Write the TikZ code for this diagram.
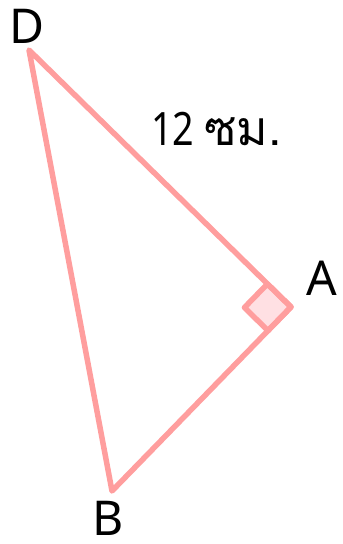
\documentclass[tikz,border=0pt]{standalone}
\usepackage{fontspec}
\usepackage{graphicx}
\setmainfont{Noto Sans}
\newfontfamily\thaifont[Script=Thai]{Loma}
\usetikzlibrary{calc}
\definecolor{edgec}{HTML}{FF9E9E}
\definecolor{markc}{HTML}{FFE0E3}
\begin{document}
\begin{tikzpicture}[x=1pt,y=-1pt,
  lbl/.style={font=\fontsize{48}{52}\selectfont, inner sep=0pt},
  edge/.style={draw=edgec, line width=5.5pt, line join=round}]
\useasboundingbox (0,0) rectangle (343,544);
\coordinate (D) at (29,50);
\coordinate (A) at (291,307);
\coordinate (B) at (112,491);
\coordinate (m1) at ($(A)!33pt!(D)$);
\coordinate (m2) at ($(A)!33pt!(B)$);
\coordinate (m3) at ($(m1)+(m2)-(A)$);
\filldraw[fill=markc, edge] (A) -- (m1) -- (m3) -- (m2) -- cycle;
\draw[edge] (D) -- (A) -- (B) -- cycle;
\node[lbl] (lD) at (27,26) {D};
\node[lbl] (lA) at (322,278) {A};
\node[lbl] (lB) at (108,518) {B};
\node[lbl, anchor=base west, font=\fontsize{46}{50}\selectfont] (len) at (151,145)
  {\scalebox{0.82}[1]{12}\hspace{10pt}{\thaifont\fontsize{48}{52}\selectfont ซม.}};
\end{tikzpicture}
\end{document}
